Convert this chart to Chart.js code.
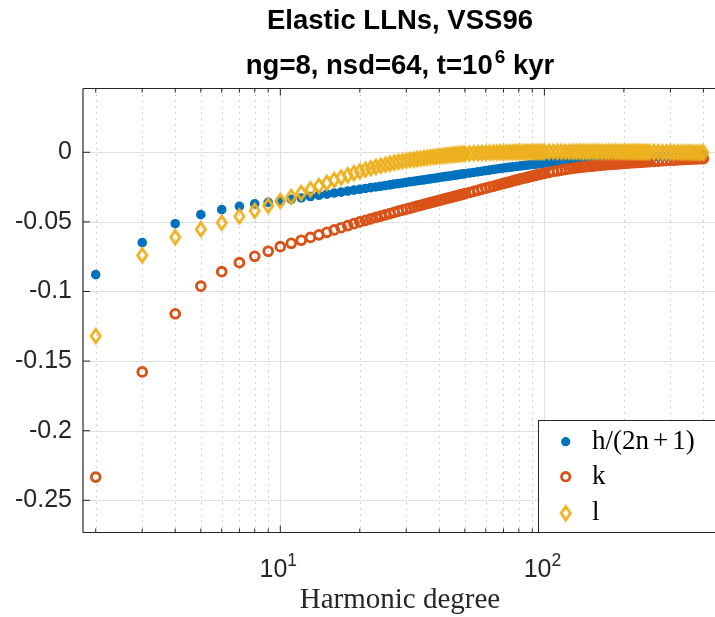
<!DOCTYPE html>
<html><head><meta charset="utf-8">
<script src="https://cdn.jsdelivr.net/npm/chart.js@4.4.0/dist/chart.umd.min.js"></script>
<style>
html,body{margin:0;padding:0;background:#fff;overflow:hidden;width:715px;height:617px}
#wrap{position:absolute;left:0;top:0;width:740px;height:617px}
</style>
</head><body><div id="wrap"><canvas id="c" width="740" height="617"></canvas></div>
<script>
// ---------------- data ----------------
const degrees = [
  2,3,4,5,6,7,8,9,10,11,12,13,14,15,16,17,18,19,20,21,22,23,24,25,26,27,28,29,30,
  31,32,33,34,35,36,37,38,39,40,41,42,43,44,45,46,47,48,49,50,
  52,54,56,58,60,62,64,66,68,70,72,74,76,78,80,82,84,86,88,90,92,94,96,98,100,
  104,108,112,116,120,124,128,132,136,140,144,148,152,156,160,
  165,170,175,180,185,190,195,200,205,210,215,220,225,230,235,240,245,250,
  260,270,280,290,300,310,320,330,340,350,360,370,380,390,400
];
const hOver2n1 = [
  -0.0879,-0.0649,-0.0513,-0.0448,-0.0412,-0.0388,-0.0371,-0.0360,-0.0350,-0.0338,-0.0328,-0.0318,-0.0309,-0.0301,
  -0.0293,-0.0286,-0.0279,-0.0272,-0.0266,-0.0260,-0.0254,-0.0249,-0.0244,-0.0239,-0.0234,-0.0229,-0.0225,-0.0221,-0.0216,
  -0.0212,-0.0209,-0.0205,-0.0201,-0.0198,-0.0194,-0.0191,-0.0188,-0.0185,-0.0181,-0.0178,-0.0175,-0.0173,-0.0170,
  -0.0167,-0.0164,-0.0162,-0.0159,-0.0157,-0.0154,
  -0.0149,-0.0145,-0.0140,-0.0136,-0.0132,-0.0128,-0.0124,-0.0120,-0.0117,-0.0113,-0.0110,-0.0108,-0.0105,-0.0102,-0.0100,
  -0.0097,-0.0095,-0.0092,-0.0090,-0.0088,-0.0086,-0.0084,-0.0081,-0.0079,-0.0077,
  -0.0074,-0.0071,-0.0069,-0.0066,-0.0064,-0.0062,-0.0060,-0.0058,-0.0057,-0.0055,-0.0054,-0.0053,-0.0051,-0.0050,-0.0049,
  -0.0048,-0.0047,-0.0046,-0.0045,-0.0044,-0.0043,-0.0042,-0.0041,-0.0040,-0.0039,-0.0038,-0.0037,-0.0036,-0.0035,-0.0035,-0.0034,-0.0033,-0.0033,
  -0.0032,-0.0030,-0.0029,-0.0028,-0.0027,-0.0026,-0.0025,-0.0024,-0.0023,-0.0022,-0.0021,-0.0020,-0.0019,-0.0018,-0.0017
];
const kLove = [
  -0.2333,-0.1578,-0.1160,-0.0962,-0.0858,-0.0793,-0.0747,-0.0711,-0.0678,-0.0654,-0.0632,-0.0612,-0.0593,-0.0575,
  -0.0558,-0.0542,-0.0527,-0.0513,-0.0500,-0.0489,-0.0478,-0.0468,-0.0458,-0.0449,-0.0440,-0.0431,-0.0423,-0.0415,-0.0408,
  -0.0401,-0.0394,-0.0387,-0.0381,-0.0374,-0.0368,-0.0362,-0.0357,-0.0351,-0.0346,-0.0340,-0.0335,-0.0330,-0.0325,
  -0.0320,-0.0315,-0.0311,-0.0306,-0.0302,-0.0297,
  -0.0289,-0.0281,-0.0273,-0.0265,-0.0258,-0.0251,-0.0244,-0.0237,-0.0230,-0.0224,-0.0218,-0.0212,-0.0206,-0.0200,-0.0195,
  -0.0190,-0.0185,-0.0180,-0.0175,-0.0171,-0.0166,-0.0162,-0.0158,-0.0154,-0.0151,
  -0.0144,-0.0138,-0.0133,-0.0128,-0.0123,-0.0119,-0.0115,-0.0112,-0.0109,-0.0106,-0.0103,-0.0101,-0.0099,-0.0097,-0.0095,
  -0.0093,-0.0090,-0.0088,-0.0086,-0.0085,-0.0083,-0.0081,-0.0080,-0.0078,-0.0077,-0.0075,-0.0074,-0.0073,-0.0072,-0.0070,-0.0069,-0.0068,-0.0067,
  -0.0065,-0.0063,-0.0061,-0.0059,-0.0057,-0.0056,-0.0054,-0.0053,-0.0052,-0.0050,-0.0049,-0.0048,-0.0047,-0.0046,-0.0045
];
const lLove = [
  -0.1320,-0.0740,-0.0610,-0.0553,-0.0506,-0.0460,-0.0420,-0.0384,-0.0350,-0.0320,-0.0292,-0.0266,-0.0242,-0.0219,
  -0.0199,-0.0181,-0.0165,-0.0150,-0.0137,-0.0125,-0.0115,-0.0105,-0.0097,-0.0089,-0.0082,-0.0075,-0.0069,-0.0064,-0.0059,
  -0.0055,-0.0052,-0.0048,-0.0045,-0.0042,-0.0039,-0.0036,-0.0033,-0.0031,-0.0028,-0.0026,-0.0024,-0.0022,-0.0020,
  -0.0018,-0.0016,-0.0015,-0.0013,-0.0012,-0.0011,
  -0.0009,-0.0007,-0.0006,-0.0005,-0.0004,-0.0003,-0.0002,-0.0002,-0.0001,-0.0001,0.0000,0.0000,0.0000,0.0001,0.0001,
  0.0001,0.0001,0.0002,0.0002,0.0002,0.0002,0.0002,0.0003,0.0003,0.0003,
  0.0003,0.0004,0.0004,0.0004,0.0004,0.0004,0.0004,0.0004,0.0004,0.0004,0.0004,0.0004,0.0004,0.0004,0.0004,
  0.0004,0.0004,0.0004,0.0004,0.0004,0.0004,0.0003,0.0003,0.0003,0.0003,0.0003,0.0003,0.0003,0.0003,0.0002,0.0002,0.0002,0.0002,
  0.0002,0.0002,0.0001,0.0001,0.0001,0.0000,0.0000,0.0000,-0.0001,-0.0001,-0.0001,-0.0002,-0.0002,-0.0002,-0.0002
];
const seriesNames = ['h/(2n+1)', 'k', 'l'];
const yTicks = [0, -0.05, -0.1, -0.15, -0.2, -0.25];
const yTickLabels = ['0', '-0.05', '-0.1', '-0.15', '-0.2', '-0.25'];
const xDecades = [10, 100];
const xDecadeExp = ['1', '2'];
const xMinor = [2,3,4,5,6,7,8,9,20,30,40,50,60,70,80,90,200,300,400];
const titleLine1 = 'Elastic LLNs, VSS96';
const titleLine2 = ['ng=8, nsd=64, t=10', '6', ' kyr'];
const xLabel = 'Harmonic degree';

// ---------------- style ----------------
const BLUE = '#0072BD', ORANGE = '#D95319', YELLOW = '#EDB120';
const AX = '#262626';
const SANS = "'Liberation Sans', Arial, Helvetica, sans-serif";
const SERIF = "'Liberation Serif', 'Times New Roman', serif";

function makeDiamond(color) {
  const c = document.createElement('canvas');
  c.width = 16; c.height = 22;
  const g = c.getContext('2d');
  g.strokeStyle = color; g.lineWidth = 2.8; g.lineJoin = 'miter';
  g.beginPath();
  g.moveTo(8, 4.2); g.lineTo(12.6, 11); g.lineTo(8, 17.8); g.lineTo(3.4, 11); g.closePath();
  g.stroke();
  return c;
}
const diamondImg = makeDiamond(YELLOW);

const toXY = arr => degrees.map((n, i) => ({x: n, y: arr[i]}));

function line(ctx, x1, y1, x2, y2) { ctx.beginPath(); ctx.moveTo(x1, y1); ctx.lineTo(x2, y2); ctx.stroke(); }

function drawParts(ctx, parts, x0, baseline, center) {
  let w = 0;
  parts.forEach(p => { ctx.font = p.font; p.w = ctx.measureText(p.t).width + (p.gap || 0); w += p.w; });
  let xx = center ? x0 - w / 2 : x0;
  ctx.textAlign = 'left'; ctx.textBaseline = 'alphabetic';
  parts.forEach(p => { ctx.font = p.font; ctx.fillText(p.t, xx + (p.pre || 0), baseline + (p.dy || 0)); xx += p.w; });
}

const matlabPlugin = {
  id: 'matlabLook',
  beforeDatasetsDraw(chart) {
    const {ctx, chartArea: a, scales: {x, y}} = chart;
    ctx.save();
    ctx.beginPath(); ctx.rect(a.left, a.top, a.right - a.left, a.bottom - a.top); ctx.clip();
    ctx.lineWidth = 1;
    ctx.strokeStyle = '#c4c4c4';
    ctx.setLineDash([1.5, 4.5]);
    xMinor.forEach(v => { const px = Math.round(x.getPixelForValue(v)) + 0.5; line(ctx, px, a.top, px, a.bottom); });
    ctx.setLineDash([]);
    ctx.strokeStyle = '#e0e0e0';
    xDecades.forEach(v => { const px = Math.round(x.getPixelForValue(v)) + 0.5; line(ctx, px, a.top, px, a.bottom); });
    yTicks.forEach(v => { const py = Math.round(y.getPixelForValue(v)) + 0.5; line(ctx, a.left, py, a.right, py); });
    ctx.restore();
  },
  afterDatasetsDraw(chart) {
    const {ctx, chartArea: a, scales: {x, y}} = chart;
    ctx.save();
    ctx.strokeStyle = AX; ctx.lineWidth = 1.2;
    line(ctx, a.left, a.top, a.left, a.bottom);
    line(ctx, a.left, a.top, a.right + 5, a.top);
    line(ctx, a.left, a.bottom, a.right + 5, a.bottom);
    ctx.lineWidth = 1;
    yTicks.forEach(v => { const py = y.getPixelForValue(v); line(ctx, a.left, py, a.left + 7, py); });
    xDecades.forEach(v => { const px = x.getPixelForValue(v); line(ctx, px, a.bottom, px, a.bottom - 7); line(ctx, px, a.top, px, a.top + 7); });
    xMinor.forEach(v => { const px = x.getPixelForValue(v); line(ctx, px, a.bottom, px, a.bottom - 4); line(ctx, px, a.top, px, a.top + 4); });

    ctx.fillStyle = AX;
    xDecades.forEach((v, i) => {
      drawParts(ctx, [
        {t: '10', font: `25px ${SANS}`},
        {t: xDecadeExp[i], font: `17.5px ${SANS}`, dy: -11}
      ], x.getPixelForValue(v) - 2, 577, true);
    });
    ctx.font = `29px ${SERIF}`; ctx.textAlign = 'center'; ctx.textBaseline = 'alphabetic';
    ctx.fillText(xLabel, (a.left + 717) / 2, 608);

    ctx.fillStyle = '#000';
    ctx.font = `bold 27.5px ${SANS}`; ctx.textAlign = 'center';
    const tcx = (a.left + 717) / 2;
    ctx.fillText(titleLine1, tcx, 29);
    drawParts(ctx, [
      {t: titleLine2[0], font: `bold 27.5px ${SANS}`},
      {t: titleLine2[1], font: `bold 19px ${SANS}`, dy: -11, pre: 2, gap: 2},
      {t: titleLine2[2], font: `bold 27.5px ${SANS}`}
    ], tcx, 74, true);

    const lx = 538.5, ly = 420.5, lb = a.bottom;
    ctx.fillStyle = '#fff';
    ctx.fillRect(lx, ly, 760 - lx, lb - ly);
    ctx.strokeStyle = AX; ctx.lineWidth = 1;
    ctx.strokeRect(lx, ly, 760 - lx, lb - ly);
    const mx = 565.7;
    ctx.fillStyle = BLUE; ctx.beginPath(); ctx.arc(mx, 441.7, 4.6, 0, Math.PI * 2); ctx.fill();
    ctx.strokeStyle = ORANGE; ctx.lineWidth = 2.8; ctx.beginPath(); ctx.arc(mx, 476.7, 4.2, 0, Math.PI * 2); ctx.stroke();
    ctx.drawImage(diamondImg, mx - 8, 513.3 - 11);
    ctx.fillStyle = '#000';
    const lf = `27px ${SERIF}`;
    drawParts(ctx, [
      {t: 'h/(2n', font: lf},
      {t: '+', font: lf, pre: 4, gap: 8},
      {t: '1)', font: lf}
    ], 592, 448.5, false);
    ctx.font = lf; ctx.textAlign = 'left';
    ctx.fillText(seriesNames[1], 592, 484);
    ctx.fillText(seriesNames[2], 592, 520);
    ctx.restore();
  }
};

new Chart(document.getElementById('c'), {
  type: 'scatter',
  data: {
    datasets: [
      {label: seriesNames[0], data: toXY(hOver2n1), order: 3, pointStyle: 'circle', pointRadius: 4.8,
       pointBackgroundColor: BLUE, pointBorderColor: BLUE, pointBorderWidth: 0},
      {label: seriesNames[1], data: toXY(kLove), order: 2, pointStyle: 'circle', pointRadius: 4.4,
       pointBackgroundColor: 'rgba(0,0,0,0)', pointBorderColor: ORANGE, pointBorderWidth: 2.9},
      {label: seriesNames[2], data: toXY(lLove), order: 1, pointStyle: diamondImg, pointRadius: 7,
       pointBackgroundColor: 'rgba(0,0,0,0)', pointBorderColor: YELLOW, pointBorderWidth: 2}
    ]
  },
  options: {
    responsive: false, animation: false, devicePixelRatio: 1, events: [],
    layout: {padding: {top: 88.5, left: 0, right: 23.1, bottom: 0}},
    plugins: {legend: {display: false}, tooltip: {enabled: false}, title: {display: false}},
    scales: {
      x: {
        type: 'logarithmic', min: 1.79, max: 450,
        ticks: {display: false}, grid: {display: false, drawTicks: false}, border: {display: false},
        afterFit: s => { s.height = 84.5; }
      },
      y: {
        type: 'linear', min: -0.2731, max: 0.0458,
        afterBuildTicks: s => { s.ticks = yTicks.map(v => ({value: v})); },
        ticks: {
          padding: 11, color: AX, font: {family: SANS, size: 25},
          callback: v => { const i = yTicks.findIndex(t => Math.abs(t - v) < 1e-9); return i >= 0 ? yTickLabels[i] : ''; }
        },
        grid: {display: false, drawTicks: false}, border: {display: false},
        afterFit: s => { s.width = 83; }
      }
    }
  },
  plugins: [matlabPlugin]
});
</script>
</body></html>
